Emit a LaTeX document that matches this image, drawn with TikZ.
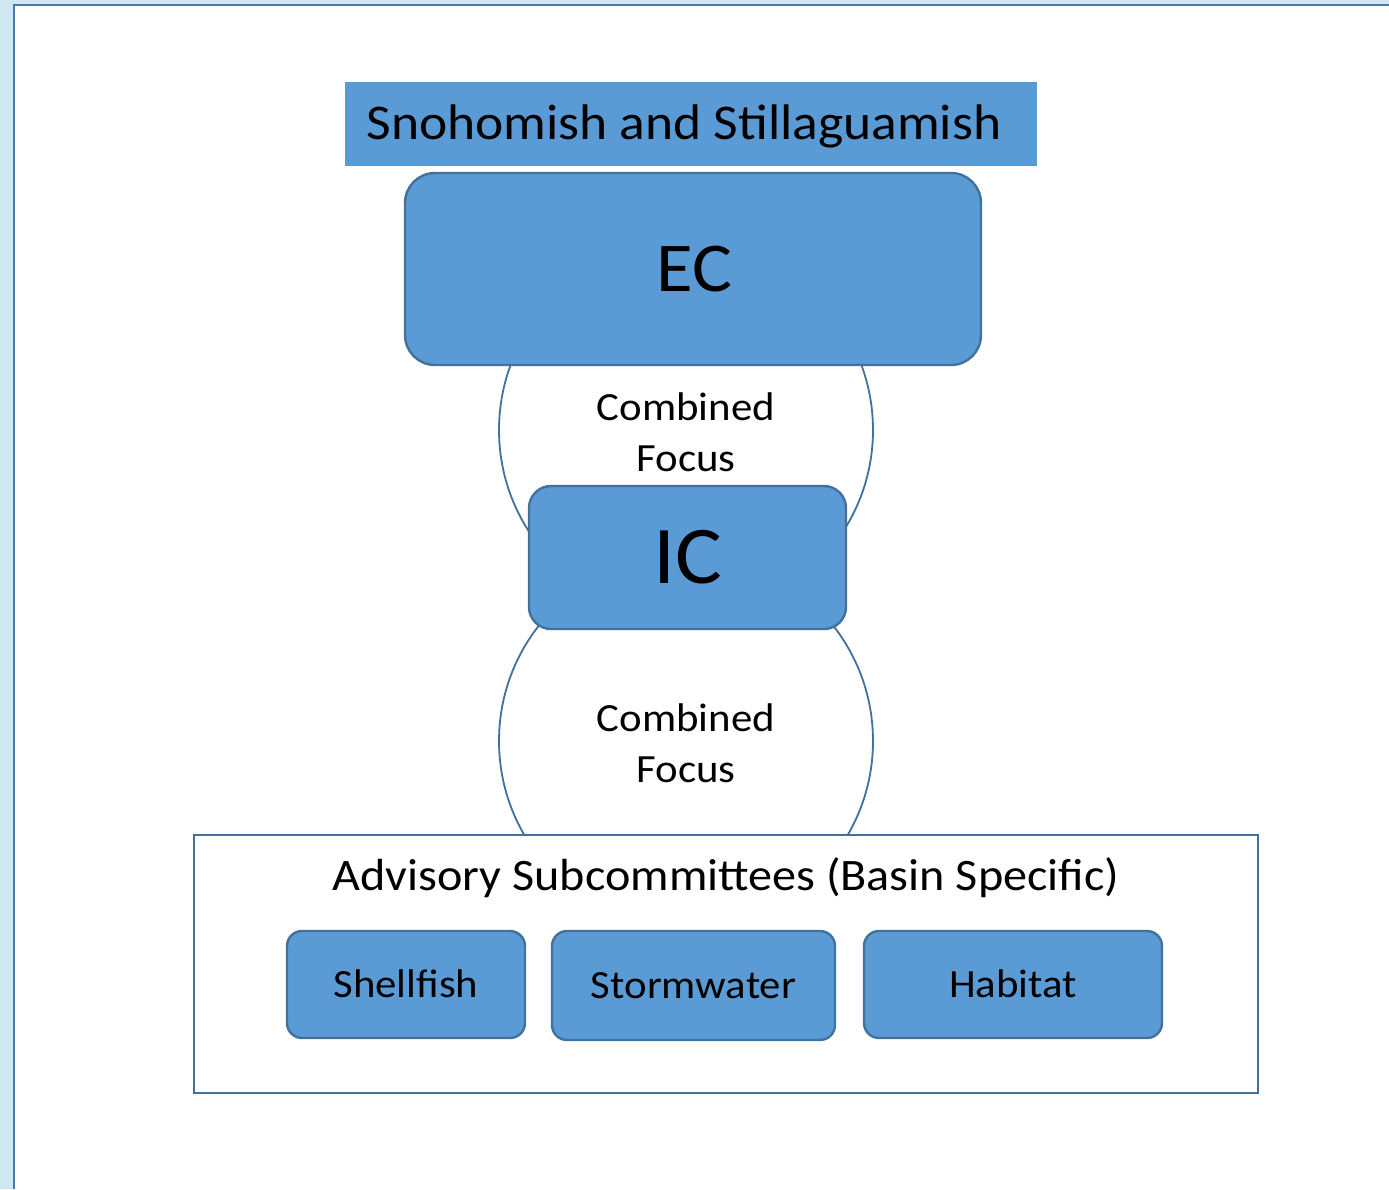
\documentclass[tikz,border=0pt]{standalone}
\usepackage{fontspec}
\setmainfont{Carlito}[FakeStretch=1.07]
\definecolor{boxfill}{HTML}{5B9BD5}
\definecolor{boxline}{HTML}{41719C}
\definecolor{frameline}{HTML}{4A78AE}
\definecolor{strip}{HTML}{CFE8EF}
\begin{document}
\begin{tikzpicture}[x=1pt,y=-1pt,
  capc/.style={text height=#1,text depth=0pt},
  bluebox/.style={draw=boxline,fill=boxfill,line width=2.4pt,inner sep=0pt,text=black},
  focuscircle/.style={circle,draw=boxline,fill=white,line width=1.8pt,minimum size=374pt,inner sep=0pt},
  focustext/.style={align=center,font=\fontsize{40}{51}\selectfont,inner sep=0pt},
  subbox/.style={bluebox,rounded corners=15pt,capc=25.3pt,font=\fontsize{40}{48}\selectfont}]
\useasboundingbox (0,0) rectangle (1389,1189);
% background frame
\fill[strip] (0,0) rectangle (1389,1189);
\fill[white] (14,5) rectangle (1389,1189);
\draw[frameline,line width=2.5pt] (14,1189) -- (14,5) -- (1389,5);
% circles
\node[focuscircle] (cf1) at (686,430) {};
\node[focuscircle] (cf2) at (686,741) {};
% title
\node[fill=boxfill,minimum width=692pt,minimum height=84pt,inner sep=0pt,capc=31.6pt,font=\fontsize{50}{58}\selectfont] (title) at (691,124) {Snohomish and Stillaguamish\kern14pt};
% EC
\node[bluebox,rounded corners=30pt,minimum width=576pt,minimum height=192pt,capc=44.2pt,font=\fontsize{70}{80}\selectfont] (ec) at (693,269) {EC\kern-3pt};
% focus labels
\node[focustext] (cf1t) at (686,432) {Combined\\Focus};
% IC
\node[bluebox,rounded corners=22pt,minimum width=317pt,minimum height=143pt,capc=51.8pt,font=\fontsize{82}{90}\selectfont] (ic) at (687.5,557.5) {IC};
\node[focustext] (cf2t) at (686,743) {Combined\\Focus};
% advisory box
\node[draw=boxline,fill=white,line width=2.2pt,minimum width=1064pt,minimum height=258pt,inner sep=0pt] (adv) at (726,964) {};
\node[font=\fontsize{45}{50}\selectfont,inner sep=0pt,capc=28.4pt] (advt) at (726,876) {Advisory Subcommittees (Basin Specific)};
\node[subbox,minimum width=238pt,minimum height=107pt] (shell) at (406,984.5) {Shellfish};
\node[subbox,minimum width=283pt,minimum height=109pt] (storm) at (693.5,985.5) {Stormwater};
\node[subbox,minimum width=298pt,minimum height=107pt] (hab) at (1013,984.5) {Habitat};
\end{tikzpicture}
\end{document}
